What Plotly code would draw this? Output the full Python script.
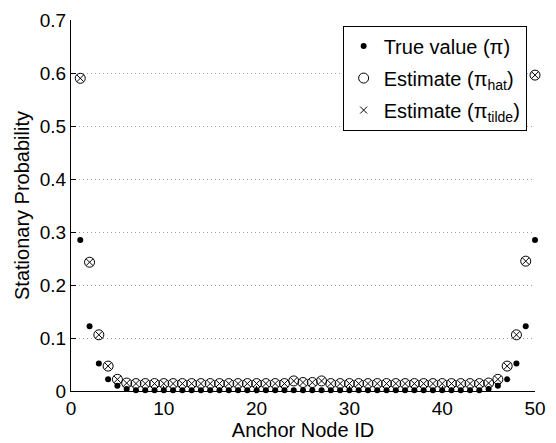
import plotly.graph_objects as go

node_id = list(range(1, 51))

true_pi = [0.285, 0.122, 0.052, 0.022, 0.010, 0.004, 0.0015, 0.0012, 0.0012, 0.0012,
           0.0012, 0.0012, 0.0012, 0.0012, 0.0012, 0.0012, 0.0012, 0.0012, 0.0012, 0.0012,
           0.0012, 0.0012, 0.0012, 0.0012, 0.0012, 0.0012, 0.0012, 0.0012, 0.0012, 0.0012,
           0.0012, 0.0012, 0.0012, 0.0012, 0.0012, 0.0012, 0.0012, 0.0012, 0.0012, 0.0012,
           0.0012, 0.0012, 0.0012, 0.0015, 0.004, 0.010, 0.022, 0.052, 0.122, 0.285]

pi_hat = [0.590, 0.243, 0.106, 0.047, 0.022, 0.015, 0.014, 0.014, 0.014, 0.014,
          0.014, 0.014, 0.014, 0.014, 0.014, 0.014, 0.014, 0.014, 0.014, 0.014,
          0.014, 0.014, 0.014, 0.019, 0.016, 0.016, 0.019, 0.014, 0.014, 0.014,
          0.014, 0.014, 0.014, 0.014, 0.014, 0.014, 0.014, 0.014, 0.014, 0.014,
          0.014, 0.014, 0.014, 0.014, 0.015, 0.022, 0.047, 0.106, 0.245, 0.596]

pi_tilde = [0.590, 0.243, 0.106, 0.047, 0.022, 0.015, 0.014, 0.014, 0.014, 0.014,
            0.014, 0.014, 0.014, 0.014, 0.014, 0.014, 0.014, 0.014, 0.014, 0.014,
            0.014, 0.014, 0.014, 0.019, 0.016, 0.016, 0.019, 0.014, 0.014, 0.014,
            0.014, 0.014, 0.014, 0.014, 0.014, 0.014, 0.014, 0.014, 0.014, 0.014,
            0.014, 0.014, 0.014, 0.014, 0.015, 0.022, 0.047, 0.106, 0.245, 0.596]

x_ticks = [0, 10, 20, 30, 40, 50]
y_ticks = [0, 0.1, 0.2, 0.3, 0.4, 0.5, 0.6, 0.7]
y_tick_labels = ["0", "0.1", "0.2", "0.3", "0.4", "0.5", "0.6", "0.7"]

FONT = "Liberation Sans, Arial, sans-serif"

fig = go.Figure()
fig.add_trace(go.Scatter(
    x=node_id, y=true_pi, mode="markers", name="True value (π)",
    legendgroup="a", cliponaxis=False,
    marker=dict(symbol="circle", size=6, color="black", line=dict(width=0)),
))
fig.add_trace(go.Scatter(
    x=node_id, y=pi_hat, mode="markers", name="Estimate (π<sub>hat</sub>)",
    legendgroup="b", cliponaxis=False,
    marker=dict(symbol="circle-open", size=10, color="black", line=dict(width=1, color="black")),
))
fig.add_trace(go.Scatter(
    x=node_id, y=pi_tilde, mode="markers", name="Estimate (π<sub>tilde</sub>)",
    legendgroup="c", cliponaxis=False,
    marker=dict(symbol="x-thin-open", size=7, color="black", line=dict(width=1, color="black")),
))

fig.update_layout(
    width=556, height=443,
    margin=dict(l=71, r=10, t=17, b=50),
    paper_bgcolor="white", plot_bgcolor="white",
    font=dict(family=FONT, size=19, color="black"),
    showlegend=True,
    legend=dict(
        x=0.982, y=0.985, xanchor="right", yanchor="top",
        bgcolor="white", bordercolor="black", borderwidth=1,
        font=dict(family=FONT, size=20, color="black"),
        tracegroupgap=3, itemsizing="trace", traceorder="grouped",
    ),
)
fig.update_xaxes(
    range=[0, 50], tickvals=x_ticks, ticktext=[str(t) for t in x_ticks],
    showgrid=False, zeroline=False,
    showline=True, linecolor="black", linewidth=1, mirror=False,
    ticks="inside", ticklen=5, tickcolor="black", tickwidth=1,
    tickfont=dict(size=19), ticklabeloverflow="allow",
    title=dict(text="Anchor Node ID", font=dict(size=20), standoff=0),
)
fig.update_yaxes(
    range=[0, 0.7], tickvals=y_ticks, ticktext=y_tick_labels,
    showgrid=True, gridcolor="#a0a0a0", griddash="1px,3px", gridwidth=1,
    zeroline=False,
    showline=True, linecolor="black", linewidth=1, mirror=False,
    ticks="inside", ticklen=5, tickcolor="black", tickwidth=1,
    tickfont=dict(size=19), ticklabeloverflow="allow",
    title=dict(text="Stationary Probability", font=dict(size=20), standoff=4),
)

fig.write_html("out.html")
